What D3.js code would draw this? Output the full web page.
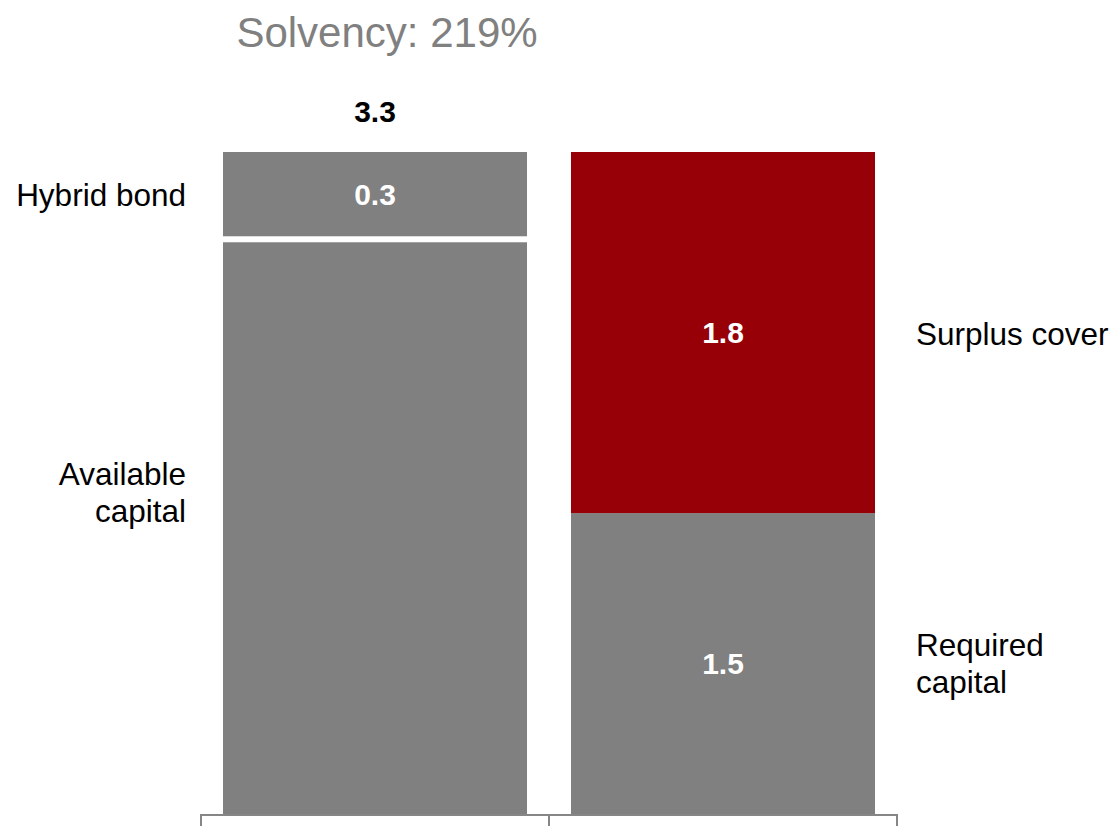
<!DOCTYPE html>
<html>
<head>
<meta charset="utf-8">
<script src="https://cdnjs.cloudflare.com/ajax/libs/d3/7.8.5/d3.min.js"></script>
<style>
  body { margin: 0; background: #fff; }
  text { font-family: "Liberation Sans", Arial, sans-serif; }
</style>
</head>
<body>
<div id="container"></div>
<script>
// data
var bars = ['available', 'required'];
var segments = ['base', 'top'];
var baseValues = [2.85, 1.5];     // available capital / required capital
var topValues = [0.45, 1.8];      // hybrid bond / surplus cover
var valueLabels = [['', '0.3'], ['1.5', '1.8']];
var totalLabel = '3.3';
var title = 'Solvency: 219%';

var W = 1118, H = 826;
var grey = '#808080', red = '#960006';

var svg = d3.select('#container').append('svg')
    .attr('width', W)
    .attr('height', H);

var x = d3.scaleBand()
    .domain(bars)
    .range([201, 897])
    .paddingInner(0.1264)
    .paddingOuter(0.0632);

var y = d3.scaleLinear()
    .domain([0, 3.3])
    .range([814, 152]);

var rows = bars.map(function (b, i) {
    return { bar: b, base: baseValues[i], top: topValues[i] };
});
var stacked = d3.stack().keys(segments)(rows);

var gap = 6;
var colors = { base: [grey, grey], top: [grey, red] };

stacked.forEach(function (layer) {
    svg.append('g')
        .selectAll('rect')
        .data(layer)
        .enter().append('rect')
        .attr('x', function (d) { return x(d.data.bar); })
        .attr('width', x.bandwidth())
        .attr('y', function (d) { return y(d[1]); })
        .attr('height', function (d, i) {
            var h = y(d[0]) - y(d[1]);
            // white gap under the hybrid bond
            if (layer.key === 'top' && i === 0) h -= gap;
            return h;
        })
        .attr('fill', function (d, i) { return colors[layer.key][i]; });

    svg.append('g')
        .selectAll('text')
        .data(layer)
        .enter().append('text')
        .attr('x', function (d) { return x(d.data.bar) + x.bandwidth() / 2; })
        .attr('y', function (d, i) {
            var h = (layer.key === 'top' && i === 0) ? gap : 0;
            return (y(d[0]) - h + y(d[1])) / 2;
        })
        .attr('dy', '0.36em')
        .attr('text-anchor', 'middle')
        .attr('fill', '#fff')
        .attr('font-weight', 'bold')
        .attr('font-size', 30)
        .text(function (d, i) { return valueLabels[i][layer.key === 'base' ? 0 : 1]; });
});

// axis at the bottom
var axis = svg.append('g');
axis.append('line')
    .attr('x1', 201).attr('x2', 897)
    .attr('y1', y(0) + 1).attr('y2', y(0) + 1)
    .attr('stroke', '#868686').attr('stroke-width', 2);
var tickXs = [x('available') - x.step() * x.paddingInner() / 2,
              x('required') - x.step() * x.paddingInner() / 2,
              x('required') + x.bandwidth() + x.step() * x.paddingInner() / 2];
axis.selectAll('.tick')
    .data(tickXs)
    .enter().append('line')
    .attr('x1', function (d) { return d; }).attr('x2', function (d) { return d; })
    .attr('y1', y(0)).attr('y2', H)
    .attr('stroke', '#868686').attr('stroke-width', 2);

// title and total
svg.append('text')
    .attr('x', 387).attr('y', 47)
    .attr('text-anchor', 'middle')
    .attr('fill', grey)
    .attr('font-size', 42)
    .text(title);

svg.append('text')
    .attr('x', x('available') + x.bandwidth() / 2)
    .attr('y', y(3.3) - 30)
    .attr('text-anchor', 'middle')
    .attr('font-weight', 'bold')
    .attr('font-size', 30)
    .text(totalLabel);

// category labels
function label(lines, xp, yp, anchor) {
    var t = svg.append('text')
        .attr('x', xp).attr('y', yp)
        .attr('text-anchor', anchor)
        .attr('font-size', 31.5)
        .attr('fill', '#000');
    lines.forEach(function (s, i) {
        t.append('tspan').attr('x', xp).attr('dy', i ? 37 : 0).text(s);
    });
}
var leftX = x('available') - 37, rightX = x('required') + x.bandwidth() + 41;
label(['Hybrid bond'], leftX, y(3.3) + 54, 'end');
label(['Available', 'capital'], leftX, y(1.64), 'end');
label(['Surplus cover'], rightX, y(2.34), 'start');
label(['Required', 'capital'], rightX, y(0.79), 'start');
</script>
</body>
</html>
